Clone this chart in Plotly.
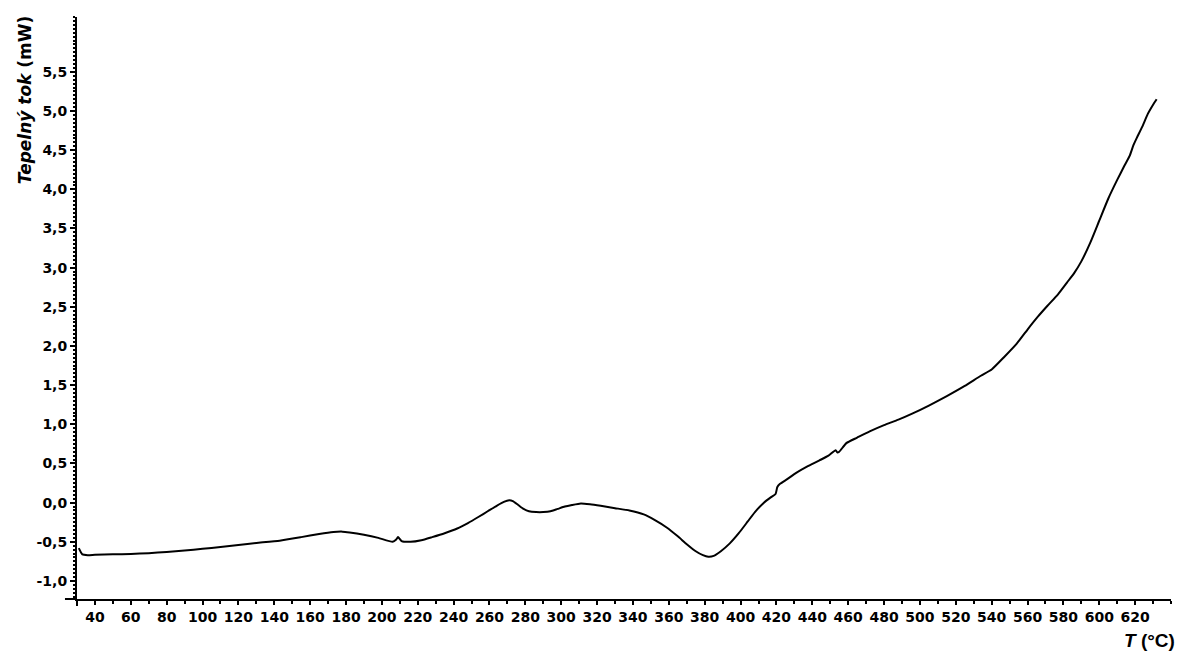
import plotly.graph_objects as go

# DSC curve: temperature (°C) and heat flow (mW)
temperature = [31, 33, 36, 40, 50, 60, 70, 80, 90, 100, 110, 120, 130, 143, 155, 165, 173, 178, 182, 190,
               198, 206, 208, 209, 211, 216, 222, 228, 235, 242, 248, 254, 259, 264, 268, 271, 273, 276,
               279, 282, 286, 290, 294, 298, 302, 306, 311, 316, 322, 330, 338, 346, 352, 359, 365, 370,
               375, 379, 382, 385, 389, 394, 399, 404, 408, 413, 417, 419.5, 420.5, 422, 426, 431, 437,
               444, 449, 453, 454, 455, 459, 465, 472, 480, 488, 496, 505, 515, 525, 534, 540, 547, 554,
               560, 566, 571, 577, 582, 586, 590, 595, 600, 605, 610, 614, 617, 619, 621, 624, 627, 630, 632]
heat_flow = [-0.58, -0.66, -0.67, -0.665, -0.66, -0.655, -0.645, -0.63, -0.61, -0.59, -0.565, -0.54,
             -0.515, -0.485, -0.44, -0.40, -0.375, -0.37, -0.38, -0.41, -0.45, -0.50, -0.47, -0.44, -0.49,
             -0.50, -0.48, -0.44, -0.39, -0.33, -0.26, -0.18, -0.11, -0.04, 0.01, 0.03, 0.02, -0.03, -0.08,
             -0.11, -0.12, -0.12, -0.11, -0.08, -0.05, -0.03, -0.01, -0.02, -0.04, -0.07, -0.10, -0.15,
             -0.22, -0.32, -0.43, -0.53, -0.62, -0.67, -0.69, -0.68, -0.62, -0.52, -0.39, -0.24, -0.12,
             0.0, 0.07, 0.11, 0.20, 0.24, 0.30, 0.38, 0.46, 0.54, 0.60, 0.67, 0.64, 0.65, 0.76, 0.83, 0.91,
             0.99, 1.06, 1.14, 1.24, 1.36, 1.49, 1.62, 1.70, 1.86, 2.03, 2.21, 2.38, 2.51, 2.66, 2.81,
             2.93, 3.08, 3.32, 3.60, 3.88, 4.12, 4.30, 4.43, 4.56, 4.66, 4.80, 4.96, 5.08, 5.15]

x_ticks = list(range(40, 621, 20))
y_ticks = [-1.0, -0.5, 0.0, 0.5, 1.0, 1.5, 2.0, 2.5, 3.0, 3.5, 4.0, 4.5, 5.0, 5.5]

tick_font = dict(family="DejaVu Sans", size=14, color="black")

fig = go.Figure()
fig.add_trace(go.Scatter(
    x=temperature, y=heat_flow, mode="lines",
    line=dict(color="black", width=2, shape="spline", smoothing=0.5),
    showlegend=False,
))

fig.update_layout(
    width=1181, height=655,
    margin=dict(l=77, r=10, t=17, b=56),
    paper_bgcolor="white", plot_bgcolor="white",
    xaxis=dict(
        range=[30, 640], tickvals=x_ticks, ticktext=[f"<b>{v}</b>" for v in x_ticks],
        showgrid=False, zeroline=False, showline=True, linecolor="black", linewidth=2,
        ticks="outside", ticklen=4, tickwidth=2, tickcolor="black",
        minor=dict(dtick=10, tick0=0, ticks="outside", ticklen=3, tickwidth=2, tickcolor="black"),
        tickfont=tick_font,
    ),
    yaxis=dict(
        range=[-1.23, 6.2], tickvals=y_ticks,
        ticktext=[("<b>%.1f</b>" % v).replace(".", ",") for v in y_ticks],
        showgrid=False, zeroline=False, showline=True, linecolor="black", linewidth=2,
        ticks="outside", ticklen=5, tickwidth=2, tickcolor="black",
        minor=dict(dtick=0.05, tick0=0, ticks="outside", ticklen=2, tickwidth=1.5, tickcolor="black"),
        tickfont=tick_font,
    ),
    shapes=[
        # axis lines overshoot slightly past the origin corner
        dict(type="line", xref="paper", yref="paper", x0=-0.011, x1=0, y0=0, y1=0,
             line=dict(color="black", width=2)),
        dict(type="line", xref="paper", yref="paper", x0=0, x1=0, y0=-0.012, y1=0,
             line=dict(color="black", width=2)),
    ],
    annotations=[
        dict(text="<b><i>Tepelný tok</i> (mW)</b>", xref="paper", yref="paper",
             x=-0.0475, y=0.857, xanchor="center", yanchor="middle", textangle=-90,
             showarrow=False, font=dict(family="DejaVu Sans", size=17, color="black")),
        dict(text="<b><i>T</i> (°C)</b>", xref="paper", yref="paper",
             x=1.0055, y=-0.072, xanchor="right", yanchor="middle",
             showarrow=False, font=dict(family="Liberation Sans", size=19, color="black")),
    ],
)

fig.write_html("out.html")
